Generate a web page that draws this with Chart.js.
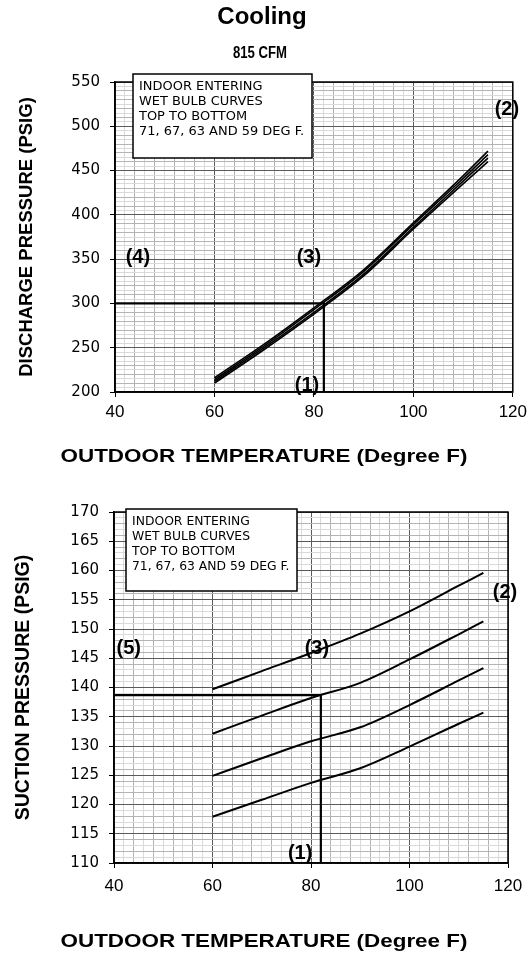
<!DOCTYPE html>
<html>
<head>
<meta charset="utf-8">
<script src="https://cdn.jsdelivr.net/npm/chart.js@4.4.0/dist/chart.umd.min.js"></script>
<style>
    body { margin: 0; background: #fff; }
    #page { position: relative; width: 532px; height: 960px; overflow: hidden; font-family: "Liberation Sans", Arial, sans-serif; }
    .chart-box { position: absolute; left: 0; width: 532px; height: 480px; }
    .txt { position: absolute; font-weight: bold; color: #000; white-space: nowrap; line-height: 1; }
</style>
</head>
<body>
<div id="page">
    <div class="chart-box" style="top:0"><canvas id="discharge" width="532" height="480"></canvas></div>
    <div class="chart-box" style="top:480px"><canvas id="suction" width="532" height="480"></canvas></div>
    <div class="txt" style="left:262px;top:4px;font-size:24px;transform:translateX(-50%)">Cooling</div>
    <div class="txt" style="left:260px;top:44.5px;font-size:16px;transform:translateX(-50%) scaleX(0.82)">815 CFM</div>
    <div class="txt" style="left:264px;top:446px;font-size:19px;transform:translateX(-50%) scaleX(1.18)">OUTDOOR TEMPERATURE (Degree F)</div>
    <div class="txt" style="left:264px;top:931px;font-size:19px;transform:translateX(-50%) scaleX(1.18)">OUTDOOR TEMPERATURE (Degree F)</div>
</div>
<script>
const tempPoints = [60, 70, 80, 90, 100, 110, 115];

const discharge71 = [216, 254, 295, 338, 391, 444, 472];
const discharge67 = [214, 252, 293, 336, 389, 441, 468];
const discharge63 = [212, 250, 290, 333, 386, 438, 464];
const discharge59 = [210, 248, 288, 331, 384, 435, 460];

const suction71 = [139.7, 142.8, 145.9, 149.2, 153.0, 157.4, 159.6];
const suction67 = [132.1, 135.2, 138.2, 140.8, 144.8, 149.1, 151.3];
const suction63 = [124.9, 127.9, 130.8, 133.2, 137.0, 141.2, 143.3];
const suction59 = [117.9, 120.8, 123.7, 126.2, 129.9, 133.8, 135.7];

const readTemp = 82;
const readDischarge = 300;
const readSuction = 138.7;

const boxLines = ['INDOOR ENTERING', 'WET BULB CURVES', 'TOP TO BOTTOM', '71, 67, 63 AND 59 DEG F.'];

const dischargeNotes = [
    {text: '(1)', x: 78.6, y: 207},
    {text: '(2)', x: 118.8, y: 519.5},
    {text: '(3)', x: 79, y: 351.4},
    {text: '(4)', x: 44.6, y: 351.4}
];
const suctionNotes = [
    {text: '(1)', x: 77.8, y: 111.7},
    {text: '(2)', x: 119.4, y: 156.3},
    {text: '(3)', x: 81.2, y: 146.6},
    {text: '(5)', x: 43, y: 146.6}
];

const MAJOR = '#5a5a5a';
const MINOR_DARK = '#b4b4b4';
const MINOR_LIGHT = '#dadada';

function toPoints(values) {
    return tempPoints.map((t, i) => ({x: t, y: values[i]}));
}

function curve(values, width) {
    return {
        data: toPoints(values),
        borderColor: '#000',
        borderWidth: width,
        pointRadius: 0,
        cubicInterpolationMode: 'monotone',
        fill: false
    };
}

function readLine(yMin, yRead) {
    return {
        data: [{x: 40, y: yRead}, {x: readTemp, y: yRead}, {x: readTemp, y: yMin}],
        borderColor: '#000',
        borderWidth: 2.2,
        pointRadius: 0,
        tension: 0,
        fill: false
    };
}

const chartNotes = {
    id: 'chartNotes',
    afterDatasetsDraw(chart, args, opts) {
        const {ctx, chartArea, scales} = chart;
        ctx.save();
        ctx.strokeStyle = '#000';
        ctx.lineWidth = 1.5;
        ctx.strokeRect(chartArea.left, chartArea.top, chartArea.right - chartArea.left, chartArea.bottom - chartArea.top);

        let bx = chartArea.left + opts.box.left;
        let by = chartArea.top + opts.box.top;
        ctx.fillStyle = '#fff';
        ctx.fillRect(bx, by, opts.box.width, opts.box.height);
        ctx.strokeRect(bx, by, opts.box.width, opts.box.height);
        ctx.fillStyle = '#000';
        ctx.font = '12px "DejaVu Sans"';
        ctx.textAlign = 'left';
        ctx.textBaseline = 'middle';
        boxLines.forEach((line, i) => {
            ctx.save();
            ctx.translate(bx + 6, by + 13 + i * 15);
            ctx.scale(opts.box.stretch, 1);
            ctx.fillText(line, 0, 0);
            ctx.restore();
        });

        ctx.font = 'bold 20px "Liberation Sans"';
        ctx.textAlign = 'center';
        opts.notes.forEach(note => {
            ctx.fillText(note.text, scales.x.getPixelForValue(note.x), scales.y.getPixelForValue(note.y));
        });
        ctx.restore();
    }
};

function makeChart(canvasId, cfg) {
    let canvas = document.getElementById(canvasId);
    return new Chart(canvas, {
        type: 'line',
        data: {datasets: cfg.datasets},
        options: {
            responsive: false,
            animation: false,
            events: [],
            layout: {padding: {top: cfg.top, right: cfg.right, left: 0, bottom: 0}},
            plugins: {
                legend: {display: false},
                tooltip: {enabled: false},
                chartNotes: {box: cfg.box, notes: cfg.notes}
            },
            scales: {
                x: {
                    type: 'linear',
                    min: 40,
                    max: 120,
                    afterBuildTicks: scale => {
                        scale.ticks = [];
                        for (let v = 40; v <= 120; v += 2) scale.ticks.push({value: v});
                    },
                    afterFit: scale => { scale.height = cfg.xHeight; },
                    grid: {
                        color: ctx => ctx.tick.value % 20 === 0 ? MAJOR : (ctx.tick.value % 4 === 0 ? MINOR_DARK : MINOR_LIGHT),
                        tickColor: ctx => ctx.tick.value % 20 === 0 ? '#000' : 'rgba(0,0,0,0)',
                        tickLength: 5,
                        lineWidth: 1
                    },
                    border: {color: '#000', width: 1.5},
                    ticks: {
                        autoSkip: false,
                        maxRotation: 0,
                        padding: cfg.xPad,
                        color: '#000',
                        font: {family: 'Liberation Sans', size: 17},
                        callback: v => v % 20 === 0 ? v : ''
                    }
                },
                y: {
                    type: 'linear',
                    min: cfg.yMin,
                    max: cfg.yMax,
                    afterBuildTicks: scale => {
                        scale.ticks = [];
                        for (let v = cfg.yMin; v <= cfg.yMax + 1e-9; v += cfg.yMinor) scale.ticks.push({value: v});
                    },
                    afterFit: scale => { scale.width = cfg.yWidth; },
                    grid: {
                        color: ctx => {
                            let n = Math.round((ctx.tick.value - cfg.yMin) / cfg.yMinor);
                            if (n % cfg.yEvery === 0) return MAJOR;
                            return n % 2 === 0 ? MINOR_DARK : MINOR_LIGHT;
                        },
                        tickColor: ctx => Math.round((ctx.tick.value - cfg.yMin) / cfg.yMinor) % cfg.yEvery === 0 ? '#000' : 'rgba(0,0,0,0)',
                        tickLength: 5,
                        lineWidth: 1
                    },
                    border: {color: '#000', width: 1.5},
                    ticks: {
                        autoSkip: false,
                        padding: 10,
                        color: '#000',
                        font: {family: 'DejaVu Sans', size: 15},
                        callback: v => Math.round((v - cfg.yMin) / cfg.yMinor) % cfg.yEvery === 0 ? v : ''
                    },
                    title: {
                        display: true,
                        text: cfg.yTitle,
                        color: '#000',
                        font: {family: 'Liberation Sans', size: cfg.yTitleSize, weight: 'bold'},
                        padding: {top: cfg.yTitlePad, bottom: 0}
                    }
                }
            }
        },
        plugins: [chartNotes]
    });
}

makeChart('discharge', {
    datasets: [
        readLine(200, readDischarge),
        curve(discharge71, 1.6),
        curve(discharge67, 1.6),
        curve(discharge63, 1.6),
        curve(discharge59, 1.6)
    ],
    top: 82, right: 17, xHeight: 88, yWidth: 115, xPad: 5,
    yMin: 200, yMax: 550, yMinor: 5, yEvery: 10,
    yTitle: 'DISCHARGE PRESSURE (PSIG)', yTitleSize: 18.5, yTitlePad: 16,
    box: {left: 18, top: -8, width: 179, height: 84, stretch: 1.08},
    notes: dischargeNotes
});

makeChart('suction', {
    datasets: [
        readLine(110, readSuction),
        curve(suction71, 2),
        curve(suction67, 2),
        curve(suction63, 2),
        curve(suction59, 2)
    ],
    top: 32, right: 24, xHeight: 97, yWidth: 114, xPad: 8,
    yMin: 110, yMax: 170, yMinor: 1, yEvery: 5,
    yTitle: 'SUCTION PRESSURE (PSIG)', yTitleSize: 19.5, yTitlePad: 12,
    box: {left: 12, top: -3, width: 171, height: 82, stretch: 1.03},
    notes: suctionNotes
});
</script>
</body>
</html>
